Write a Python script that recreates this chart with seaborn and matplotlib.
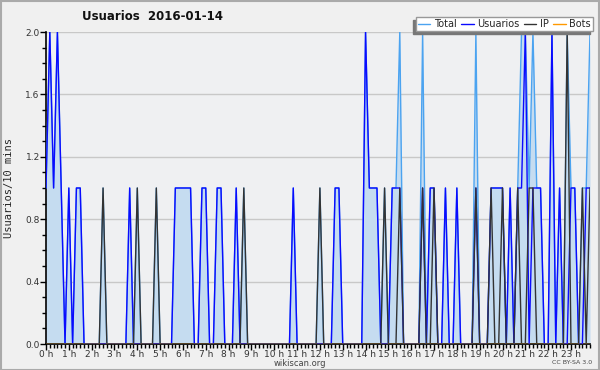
import numpy as np
import pandas as pd
import matplotlib
matplotlib.use("Agg")
import matplotlib.pyplot as plt
import seaborn as sns
from matplotlib.patches import Rectangle

N = 144
hour_labels = [f"{h} h" for h in range(24)]

usuarios_pts = {0: 1, 1: 2, 2: 1, 3: 2, 4: 1, 6: 1, 8: 1, 9: 1, 22: 1,
                34: 1, 35: 1, 36: 1, 37: 1, 38: 1, 41: 1, 42: 1, 45: 1, 46: 1,
                50: 1, 65: 1, 76: 1, 77: 1, 84: 2, 85: 1, 86: 1, 87: 1,
                91: 1, 92: 1, 93: 1, 99: 1, 101: 1, 102: 1, 105: 1, 108: 1,
                113: 1, 117: 1, 118: 1, 119: 1, 120: 1, 122: 1, 124: 1, 125: 1,
                126: 2, 128: 1, 129: 1, 130: 1, 133: 2, 135: 1, 138: 1, 139: 1,
                142: 1, 143: 1}
ip_pts = {15: 1, 24: 1, 29: 1, 52: 1, 72: 1, 89: 1, 93: 1, 99: 1, 102: 1,
          113: 1, 117: 1, 120: 1, 124: 1, 127: 1, 128: 1, 137: 2, 141: 1, 143: 1}
total_pts = {0: 1, 1: 2, 2: 1, 3: 2, 4: 1, 6: 1, 8: 1, 9: 1, 15: 1, 22: 1, 24: 1,
             29: 1, 34: 1, 35: 1, 36: 1, 37: 1, 38: 1, 41: 1, 42: 1, 45: 1, 46: 1,
             50: 1, 52: 1, 65: 1, 72: 1, 76: 1, 77: 1, 84: 2, 85: 1, 86: 1, 87: 1,
             89: 1, 91: 1, 92: 1, 93: 2, 99: 2, 101: 1, 102: 1, 105: 1, 108: 1,
             113: 2, 117: 1, 118: 1, 119: 1, 120: 1, 122: 1, 124: 1, 125: 2,
             126: 2, 127: 1, 128: 2, 129: 1, 130: 1, 133: 2, 135: 1, 137: 2,
             138: 1, 139: 1, 141: 1, 142: 1, 143: 2}

usuarios = [usuarios_pts.get(i, 0) for i in range(N)]
ip = [ip_pts.get(i, 0) for i in range(N)]
total = [total_pts.get(i, 0) for i in range(N)]
bots = [0] * N

df = pd.DataFrame({"slot": np.arange(N), "Total": total, "Usuarios": usuarios,
                   "IP": ip, "Bots": bots})

sns.set_style("white")
plt.rcParams['font.family'] = ['DejaVu Sans']

fig = plt.figure(figsize=(6, 3.7), dpi=100, facecolor="#f0f0f0")
ax = fig.add_axes([46 / 600, 26 / 370, 544 / 600, 312 / 370])
ax.set_facecolor("#eff0f2")

colors = {"Total": "#4ba3f0", "Usuarios": "#0a0aff", "IP": "#333333", "Bots": "#ff9900"}

ax.fill_between(df["slot"], 0, df["Total"], color="#c5dcf0", zorder=1, linewidth=0)
for name in ["Total", "Usuarios", "IP", "Bots"]:
    sns.lineplot(data=df, x="slot", y=name, ax=ax, color=colors[name],
                 linewidth=1.0, label=name, zorder=3)

ax.set_xlim(0, N - 1)
ax.set_ylim(0, 2.0)
ax.set_xticks(np.arange(0, N, 6))
ax.set_xticklabels(hour_labels)
ax.set_xticks(np.arange(0, N, 1), minor=True)
ax.set_yticks(np.arange(0, 2.01, 0.4))
ax.set_yticklabels([f"{v:.1f}" for v in np.arange(0, 2.01, 0.4)])
ax.set_yticks(np.arange(0, 2.01, 0.1), minor=True)
ax.tick_params(axis="both", which="major", length=4, width=1, color="black",
               labelsize=6.5, labelcolor="#333333", pad=0.5, direction="out")
ax.tick_params(axis="both", which="minor", length=3, width=1, color="black", direction="out")
ax.tick_params(axis="x", bottom=True, which="both")
ax.tick_params(axis="y", left=True, which="both")
ax.grid(axis="y", which="major", color="#c8c8c8", linewidth=1)
ax.set_axisbelow(True)
for s in ["top", "right"]:
    ax.spines[s].set_visible(False)
ax.spines["left"].set_color("black")
ax.spines["bottom"].set_color("black")
ax.spines["left"].set_linewidth(1.2)
ax.spines["bottom"].set_linewidth(1.2)
ax.set_xlabel("")
ax.set_ylabel("Usuarios/10 mins", family="DejaVu Sans Mono", fontsize=7.5, labelpad=8)

leg = ax.legend(loc="upper right", bbox_to_anchor=(593 / 600, 1 - 17 / 370),
                bbox_transform=fig.transFigure, ncol=4, fontsize=7, frameon=True,
                fancybox=False, shadow={"ox": -2.2, "oy": -2.2, "color": "#777777", "alpha": 1},
                handlelength=1.3, handletextpad=0.4, columnspacing=0.4,
                borderpad=0.2, borderaxespad=0)
leg.get_frame().set_edgecolor("#999999")
leg.get_frame().set_linewidth(1)
for line in leg.get_lines():
    line.set_linewidth(1.0)

fig.text(152 / 600, 1 - 17 / 370, "Usuarios  2016-01-14", fontsize=8.5, fontweight="bold",
         ha="center", va="center", color="#111111")
fig.text(300 / 600, 1 - 363 / 370, "wikiscan.org", fontsize=6, ha="center", va="center",
         color="#444444")
fig.text(572 / 600, 1 - 363 / 370, "CC BY-SA 3.0", fontsize=4.5, ha="center", va="center",
         color="#444444")
fig.patches.append(Rectangle((0.001, 0.001), 0.997, 0.996, transform=fig.transFigure,
                             fill=False, edgecolor="#aaaaaa", linewidth=1.5))

fig.savefig("out.png", dpi=100, facecolor=fig.get_facecolor())
